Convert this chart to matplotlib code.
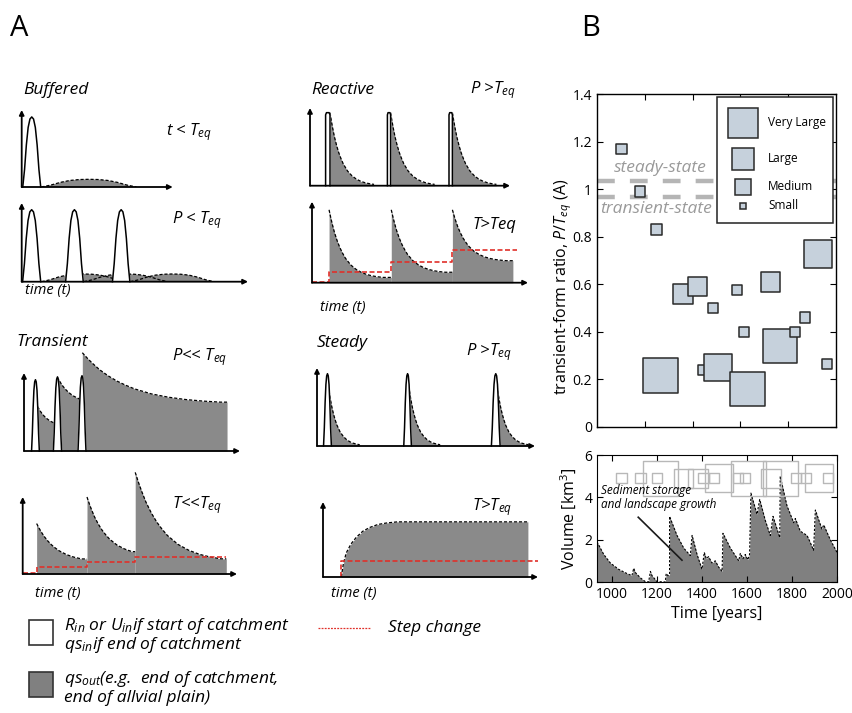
import numpy as np
import matplotlib
matplotlib.use("Agg")
import matplotlib.pyplot as plt
from matplotlib.patches import Rectangle

W, H = 852, 713

plt.rcParams['font.family'] = ['Open Sans', 'DejaVu Sans']
plt.rcParams['mathtext.fontset'] = 'custom'
plt.rcParams['mathtext.rm'] = 'Open Sans'
plt.rcParams['mathtext.it'] = 'Open Sans:italic'

# ---------------------------------------------------------------
# Panel A: normalised shapes
# ---------------------------------------------------------------
PULSE_X = [0, 0.1, 0.2, 0.3, 0.4, 0.5, 0.6, 0.7, 0.8, 0.9, 1.0]
PULSE_Y = [0, 0.25, 0.6, 0.85, 0.97, 1.0, 0.97, 0.85, 0.6, 0.25, 0]
BOX_X = [0, 0, 0.2, 0.8, 1, 1]
BOX_Y = [0, 0.97, 1, 1, 0.97, 0]
DECAY_X = [0, 0.03, 0.06, 0.1, 0.15, 0.2, 0.25, 0.3, 0.4, 0.5, 0.6, 0.7, 0.8, 0.9, 1.0]
DECAY_Y = [1, 0.89, 0.79, 0.67, 0.55, 0.45, 0.37, 0.30, 0.20, 0.135, 0.09, 0.06, 0.04, 0.027, 0.018]
RISE_X = [0, 0.01, 0.023, 0.045, 0.07, 0.1, 0.132, 0.17, 0.21, 0.26]
RISE_Y = [0, 0.18, 0.32, 0.44, 0.53, 0.61, 0.66, 0.70, 0.72, 0.735]

# pulses: (start, end, height); decays: (start, height, base, length, end)
buffered_top_pulses = [(0.007, 0.126, 0.91)]
buffered_top_humps = [(0.13, 0.76, 0.10)]
buffered_bot_pulses = [(0.004, 0.084, 0.915), (0.194, 0.272, 0.915), (0.401, 0.478, 0.915)]
buffered_bot_humps = [(0.088, 0.458, 0.098), (0.275, 0.645, 0.098), (0.48, 0.85, 0.098)]

reactive_top_boxes = [(0.078, 0.100, 0.94), (0.387, 0.403, 0.94), (0.695, 0.712, 0.94)]
reactive_top_decays = [(0.100, 0.94, 0.0, 0.22, None), (0.403, 0.94, 0.0, 0.22, None),
                       (0.712, 0.94, 0.0, 0.22, None)]
reactive_bot_decays = [(0.079, 0.90, 0.05, 0.25, 0.367), (0.367, 0.90, 0.115, 0.25, 0.65),
                       (0.65, 0.90, 0.26, 0.25, 0.93)]
reactive_step_x = [0, 0.079, 0.367, 0.65, 0.95]
reactive_step_y = [0.012, 0.136, 0.26, 0.40, 0.40]

transient_top_pulses = [(0.035, 0.071, 0.914), (0.136, 0.174, 0.95), (0.25, 0.287, 0.965)]
transient_top_decays = [(0.063, 0.57, 0.30, 0.20, 0.154), (0.154, 0.95, 0.60, 0.25, 0.27),
                        (0.27, 1.26, 0.60, 0.80, 0.94)]
transient_bot_decays = [(0.065, 0.655, 0.15, 0.35, 0.30), (0.30, 1.0, 0.22, 0.35, 0.525),
                        (0.525, 1.32, 0.15, 0.50, 0.95)]
transient_step_x = [0, 0.065, 0.30, 0.525, 0.95]
transient_step_y = [0.01, 0.086, 0.15, 0.215, 0.215]

steady_top_pulses = [(0.03, 0.066, 0.927), (0.398, 0.433, 0.927), (0.80, 0.84, 0.927)]
steady_top_decays = [(0.046, 0.90, 0.0, 0.15, None), (0.415, 0.90, 0.0, 0.15, None),
                     (0.82, 0.90, 0.0, 0.15, None)]
steady_rise_start, steady_rise_end = 0.085, 0.953
steady_step_x = [steady_rise_start, steady_rise_start, 1.0]
steady_step_y = [0.0, 0.22, 0.22]

# ---------------------------------------------------------------
# Panel B data
# ---------------------------------------------------------------
event_year = [1044, 1128, 1200, 1218, 1319, 1383, 1408, 1453, 1475, 1560,
              1591, 1606, 1708, 1750, 1818, 1862, 1921, 1961]
event_ratio = [1.17, 0.99, 0.83, 0.215, 0.56, 0.59, 0.24, 0.50, 0.25, 0.575,
               0.40, 0.16, 0.61, 0.34, 0.40, 0.46, 0.727, 0.265]
event_size = ['Small', 'Small', 'Small', 'Very Large', 'Medium', 'Medium', 'Small', 'Small',
              'Large', 'Small', 'Small', 'Very Large', 'Medium', 'Very Large', 'Small',
              'Small', 'Large', 'Small']
size_labels = ['Very Large', 'Large', 'Medium', 'Small']
ratio_ticks = [0, 0.2, 0.4, 0.6, 0.8, 1.0, 1.2, 1.4]
ratio_ticklabels = ['0', '0.2', '0.4', '0.6', '0.8', '1', '1.2', '1.4']

vol_year = [935, 965, 994, 1031, 1068, 1090, 1098, 1105, 1127, 1149, 1164, 1172, 1179,
            1201, 1238, 1242, 1250, 1257, 1257, 1290, 1320, 1349, 1357, 1379, 1401,
            1411, 1420, 1430, 1445, 1460, 1475, 1490, 1494, 1527, 1564, 1571, 1583,
            1593, 1604, 1612, 1618, 1645, 1657, 1682, 1704, 1716, 1734, 1746, 1748,
            1778, 1808, 1815, 1837, 1867, 1880, 1896, 1904, 1933, 1941, 1970, 2000]
vol_km3 = [1.9, 1.3, 0.9, 0.6, 0.4, 0.3, 0.65, 0.45, 0.2, 0.02, 0.0, 0.5, 0.3,
           0.02, 0.0, 0.4, 0.3, 0.35, 3.1, 2.2, 1.6, 1.25, 2.2, 1.3, 0.6,
           1.4, 1.1, 1.2, 0.9, 1.0, 0.7, 0.5, 2.3, 1.6, 1.0, 1.35, 1.1,
           1.3, 1.05, 1.3, 4.2, 3.2, 3.9, 2.9, 2.2, 3.1, 2.5, 2.1, 5.0,
           3.6, 2.8, 3.0, 2.4, 2.2, 1.9, 1.5, 3.4, 2.5, 2.7, 2.0, 1.4]
marker_row_level = 4.9

# styles
GRAY = '#8a8a8a'
RED = '#e0302a'
BOX_FACE = '#c6d1dc'
SIDE_PT = {'Very Large': 25.0, 'Large': 20.0, 'Medium': 14.0, 'Small': 7.4}
LEGEND_SIDE_PT = {'Very Large': 21.0, 'Large': 15.6, 'Medium': 11.5, 'Small': 5.0}


def fig_rect(x0, y0, x1, y1):
    return [x0 / W, 1 - y1 / H, (x1 - x0) / W, (y1 - y0) / H]


def fx(x):
    return x / W


def fy(y):
    return 1 - y / H


fig = plt.figure(figsize=(W / 100, H / 100), dpi=100)


def mini_axes(x0, y0, x1, y1):
    ax = fig.add_axes(fig_rect(x0, y0, x1, y1))
    ax.set_xlim(0, 1)
    ax.set_ylim(0, 1)
    ax.axis('off')
    arrow = dict(arrowstyle='-|>', color='k', lw=1.3, mutation_scale=7, shrinkA=0, shrinkB=0)
    ax.annotate('', xy=(1, 0), xytext=(0, 0), xycoords='axes fraction',
                arrowprops=arrow, zorder=7, annotation_clip=False)
    ax.annotate('', xy=(0, 1), xytext=(0, 0), xycoords='axes fraction',
                arrowprops=arrow, zorder=7, annotation_clip=False)
    return ax


def draw_pulse(ax, x0, x1, h, shape_x=PULSE_X, shape_y=PULSE_Y):
    xs = x0 + (x1 - x0) * np.asarray(shape_x)
    ys = h * np.asarray(shape_y)
    ax.fill(xs, ys, color='white', zorder=4, clip_on=False)
    ax.plot(xs, ys, color='k', lw=1.1, zorder=5, clip_on=False)


def draw_hump(ax, x0, x1, h):
    xs = x0 + (x1 - x0) * np.asarray(PULSE_X)
    ys = h * np.asarray(PULSE_Y)
    ax.fill(xs, ys, color=GRAY, lw=0, zorder=2)
    ax.plot(xs, ys, color='k', lw=0.9, ls=(0, (2.5, 1.5)), zorder=3)


def draw_decay(ax, x0, h, base, length, x_end):
    xs = x0 + length * np.asarray(DECAY_X)
    ys = base + (h - base) * np.asarray(DECAY_Y)
    if x_end is not None:
        keep = xs <= x_end
        xs = np.append(xs[keep], x_end)
        ys = np.append(ys[keep], ys[keep][-1])
    ax.fill_between(xs, 0, ys, color=GRAY, lw=0, zorder=2, clip_on=False)
    ax.plot(xs, ys, color='k', lw=0.9, ls=(0, (2.5, 1.5)), zorder=3, clip_on=False)


def draw_steps(ax, xs, ys):
    ax.plot(xs, ys, drawstyle='steps-post', color=RED, lw=1.2, ls=(0, (3, 1.5)), zorder=6)


def italic(x, y, s, size=12, **kw):
    fig.text(fx(x), fy(y), s, fontsize=size, style='italic', va='center', **kw)


# ---------------- Panel A ----------------
ax = mini_axes(21.7, 110, 172.7, 187)
for hump in buffered_top_humps:
    draw_hump(ax, *hump)
for p in buffered_top_pulses:
    draw_pulse(ax, *p)

ax = mini_axes(21.7, 203, 248, 281.7)
for hump in buffered_bot_humps:
    draw_hump(ax, *hump)
for p in buffered_bot_pulses:
    draw_pulse(ax, *p)

ax = mini_axes(310, 108, 510, 185.7)
for d in reactive_top_decays:
    draw_decay(ax, *d)
for p in reactive_top_boxes:
    draw_pulse(ax, *p, shape_x=BOX_X, shape_y=BOX_Y)

ax = mini_axes(312, 201.7, 528, 282.7)
for d in reactive_bot_decays:
    draw_decay(ax, *d)
draw_steps(ax, reactive_step_x, reactive_step_y)

ax = mini_axes(24, 373, 240, 451)
for d in transient_top_decays:
    draw_decay(ax, *d)
for p in transient_top_pulses:
    draw_pulse(ax, *p)

ax = mini_axes(22.7, 497, 237, 574)
for d in transient_bot_decays:
    draw_decay(ax, *d)
draw_steps(ax, transient_step_x, transient_step_y)

ax = mini_axes(317, 368, 535, 446)
for d in steady_top_decays:
    draw_decay(ax, *d)
for p in steady_top_pulses:
    draw_pulse(ax, *p)

ax = mini_axes(323, 502, 538, 577)
rx = np.append(steady_rise_start + np.asarray(RISE_X), steady_rise_end)
ry = np.append(RISE_Y, RISE_Y[-1])
ax.fill_between(rx, 0, ry, color=GRAY, lw=0, zorder=2)
ax.plot(rx, ry, color='k', lw=0.9, ls=(0, (2.5, 1.5)), zorder=3)
ax.plot(steady_step_x, steady_step_y, color=RED, lw=1.2, ls=(0, (3, 1.5)), zorder=6)

# panel A texts
fig.text(fx(10), fy(28), 'A', fontsize=21, va='center')
fig.text(fx(581), fy(28), 'B', fontsize=21, va='center')

italic(23, 90, 'Buffered', 12.5)
italic(166, 132, r'$t$ < $T_{eq}$', 12)
italic(172, 220, r'$P$ < $T_{eq}$', 12)
italic(25, 290, 'time (t)', 10.5)
italic(311, 90, 'Reactive', 12.5)
italic(470, 90, r'$P$ >$T_{eq}$', 12)
italic(472, 225, 'T>Teq', 12)
italic(320, 308, 'time (t)', 10.5)
italic(16, 342, 'Transient', 12.5)
italic(172, 357, r'$P$<< $T_{eq}$', 12)
italic(172, 505, r'$T$<<$T_{eq}$', 12)
italic(35, 593, 'time (t)', 10.5)
italic(317, 343, 'Steady', 12.5)
italic(466, 352, r'$P$ >$T_{eq}$', 12)
italic(472, 507, r'$T$>$T_{eq}$', 12)
italic(331, 593, 'time (t)', 10.5)

# panel A key
fig.patches.append(Rectangle((fx(29), fy(645)), 24 / W, 25 / H, transform=fig.transFigure,
                             facecolor='white', edgecolor='#333333', lw=1.2))
fig.patches.append(Rectangle((fx(29), fy(697)), 24 / W, 25 / H, transform=fig.transFigure,
                             facecolor='#808080', edgecolor='#333333', lw=1.2))
italic(64, 626, r'$R_{in}$ or $U_{in}$if start of catchment', 12.5)
italic(64, 645, r'$qs_{in}$if end of catchment', 12.5)
italic(64, 679, r'$qs_{out}$(e.g.  end of catchment,', 12.5)
italic(64, 698, 'end of allvial plain)', 12.5)
fig.add_artist(plt.Line2D([fx(318), fx(370)], [fy(628), fy(628)], color=RED, lw=0.9,
                          ls=(0, (1.5, 1)), transform=fig.transFigure))
italic(388, 628, 'Step change', 12.5)

# ---------------- Panel B: transient-form ratio ----------------
xlim = (935, 2000)
axb = fig.add_axes(fig_rect(597, 94, 836, 427))
axb.set_xlim(*xlim)
axb.set_ylim(0, 1.4)
for level in (1.035, 0.967):
    axb.plot(xlim, [level, level], color='#b5b5b5', lw=3.2, dashes=(4, 3.4),
             solid_capstyle='butt', zorder=1)
axb.text(1215, 1.09, 'steady-state', color='#9a9a9a', style='italic', fontsize=12.5,
         ha='center', va='center', zorder=2)
axb.text(1200, 0.915, 'transient-state', color='#9a9a9a', style='italic', fontsize=12.5,
         ha='center', va='center', zorder=2)
sides = np.array([SIDE_PT[s] for s in event_size])
axb.scatter(event_year, event_ratio, s=sides ** 2, marker='s', facecolor=BOX_FACE,
            edgecolor='#2a2a2a', linewidths=1.1, zorder=3)
axb.set_yticks(ratio_ticks)
axb.set_yticklabels(ratio_ticklabels)
axb.set_xticks(xlim[0] + (xlim[1] - xlim[0]) * np.array([0.2, 0.4, 0.6, 0.8]))
axb.tick_params(direction='in', top=True, right=True, length=4, labelsize=10,
                labelbottom=False)
axb.set_ylabel(r'transient-form ratio, $P/T_{eq}$ (A)', fontsize=11.5)
axb.yaxis.set_label_coords(-0.095, 0.42)
for sp in axb.spines.values():
    sp.set_linewidth(1.0)

# hand-placed size key (rows are unevenly spaced in the original)
axb.add_patch(Rectangle((0.50, 0.613), 0.486, 0.379, transform=axb.transAxes,
                        facecolor='white', edgecolor='#222222', lw=1.1, zorder=5))
for label, yrow in zip(size_labels, [0.913, 0.805, 0.722, 0.664]):
    axb.plot([0.609], [yrow], marker='s', ms=LEGEND_SIDE_PT[label], mfc=BOX_FACE,
             mec='#2a2a2a', mew=1.1, transform=axb.transAxes, zorder=6, ls='none')
    axb.text(0.715, yrow, label, transform=axb.transAxes, fontsize=8.5, va='center', zorder=6)

# ---------------- Panel B: volume ----------------
axv = fig.add_axes(fig_rect(597, 455, 837, 582))
axv.set_xlim(*xlim)
axv.set_ylim(0, 6)
axv.fill_between(vol_year, 0, vol_km3, color='#808080', lw=0, zorder=1)
axv.plot(vol_year, vol_km3, color='k', ls=(0, (2, 1.5)), lw=0.8, zorder=2)
axv.scatter(event_year, [marker_row_level] * len(event_year), s=sides ** 2, marker='s',
            facecolors='none', edgecolors='#b8b8b8', linewidths=1.0, zorder=3)
axv.plot([1118, 1312], [3.06, 1.03], color='#1a1a1a', lw=1.2, zorder=4)
axv.text(953, 4.65, 'Sediment storage\nand landscape growth', fontsize=8.5, style='italic',
         va='top', linespacing=1.1, zorder=4)
axv.set_xticks([1000, 1200, 1400, 1600, 1800, 2000])
axv.set_yticks([0, 2, 4, 6])
axv.tick_params(direction='in', top=True, right=True, length=4, labelsize=10)
axv.set_ylabel(r'Volume [km$^3$]', fontsize=11.5, labelpad=4)
axv.set_xlabel('Time [years]', fontsize=11.5, labelpad=3)

fig.savefig('out.png', dpi=100)
